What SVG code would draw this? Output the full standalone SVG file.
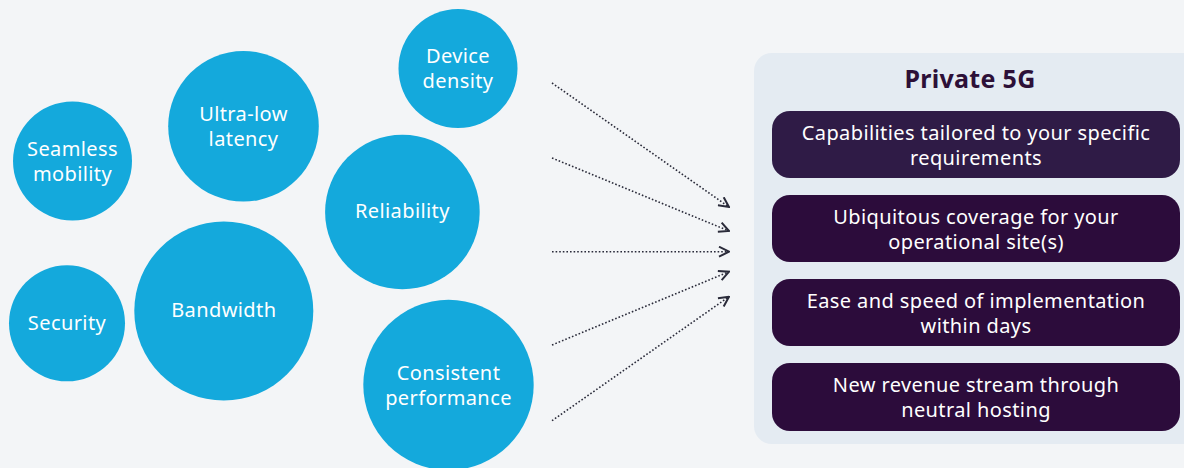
<svg xmlns="http://www.w3.org/2000/svg" width="1184" height="468" viewBox="0 0 1184 468">
<defs>
<marker id="arr" viewBox="0 0 12 12" refX="11" refY="6" markerWidth="12" markerHeight="12" markerUnits="userSpaceOnUse" orient="auto">
<path d="M1,1 L11,6 L1,11" fill="none" stroke="#2a2b3a" stroke-width="2"/>
</marker>
<style>
.c{fill:#14a9dc}
.t{font-family:"Noto Sans","Open Sans",sans-serif;font-size:20px;letter-spacing:0.4px;fill:#ffffff;text-anchor:middle}
.b{font-family:"Noto Sans","Open Sans",sans-serif;font-size:20px;letter-spacing:0.4px;fill:#ffffff;text-anchor:middle}
.box{fill:#2c0c3b}
.ln{fill:none;stroke:#2a2b3a;stroke-width:1.6;stroke-dasharray:1.6 2}
</style>
</defs>
<rect width="1184" height="468" fill="#f3f5f7"/>
<g id="seamless-mobility"><circle class="c" cx="72.5" cy="161" r="59.5"/><text class="t" x="72.5" y="155.5">Seamless</text><text class="t" x="72.5" y="180.5">mobility</text></g>
<g id="ultra-low-latency"><circle class="c" cx="243.5" cy="126.3" r="75.3"/><text class="t" x="243.5" y="120.5">Ultra-low</text><text class="t" x="243.5" y="145.5">latency</text></g>
<g id="device-density"><circle class="c" cx="458" cy="68.5" r="59.5"/><text class="t" x="458" y="62.5">Device</text><text class="t" x="458" y="87.5">density</text></g>
<g id="reliability"><circle class="c" cx="402.4" cy="212" r="77.3"/><text class="t" x="402.4" y="218">Reliability</text></g>
<g id="security"><circle class="c" cx="67" cy="323.3" r="58"/><text class="t" x="67" y="330">Security</text></g>
<g id="bandwidth"><circle class="c" cx="223.8" cy="311" r="89.5"/><text class="t" x="223.8" y="317">Bandwidth</text></g>
<g id="consistent-performance"><circle class="c" cx="448.5" cy="385" r="85.2"/><text class="t" x="448.5" y="379.5">Consistent</text><text class="t" x="448.5" y="404.5">performance</text></g>
<g id="connectors">
<line class="ln" x1="552" y1="83" x2="729" y2="207" marker-end="url(#arr)"/>
<line class="ln" x1="552" y1="158" x2="729" y2="231" marker-end="url(#arr)"/>
<line class="ln" x1="552" y1="251.7" x2="729" y2="251.7" marker-end="url(#arr)"/>
<line class="ln" x1="552" y1="345" x2="729" y2="271.7" marker-end="url(#arr)"/>
<line class="ln" x1="552" y1="420.7" x2="729" y2="296.7" marker-end="url(#arr)"/>
</g>
<g id="private-5g">
<rect x="754" y="53" width="450" height="391" rx="18" fill="#e4ebf2"/>
<text x="970" y="88" font-family="Noto Sans,'Open Sans',sans-serif" font-size="25" letter-spacing="0.3" font-weight="bold" fill="#2d1038" text-anchor="middle">Private 5G</text>
</g>
<g id="item-1"><rect class="box" x="772" y="111" width="408" height="67" rx="18" style="fill:#2f1b46"/><text class="b" x="976" y="139.5">Capabilities tailored to your specific</text><text class="b" x="976" y="164.5">requirements</text></g>
<g id="item-2"><rect class="box" x="772" y="195" width="408" height="67" rx="18"/><text class="b" x="976" y="223.5">Ubiquitous coverage for your</text><text class="b" x="976" y="248.5">operational site(s)</text></g>
<g id="item-3"><rect class="box" x="772" y="279" width="408" height="67" rx="18"/><text class="b" x="976" y="307.5">Ease and speed of implementation</text><text class="b" x="976" y="332.5">within days</text></g>
<g id="item-4"><rect class="box" x="772" y="363" width="408" height="68" rx="18"/><text class="b" x="976" y="391.5">New revenue stream through</text><text class="b" x="976" y="416.5">neutral hosting</text></g>
</svg>
